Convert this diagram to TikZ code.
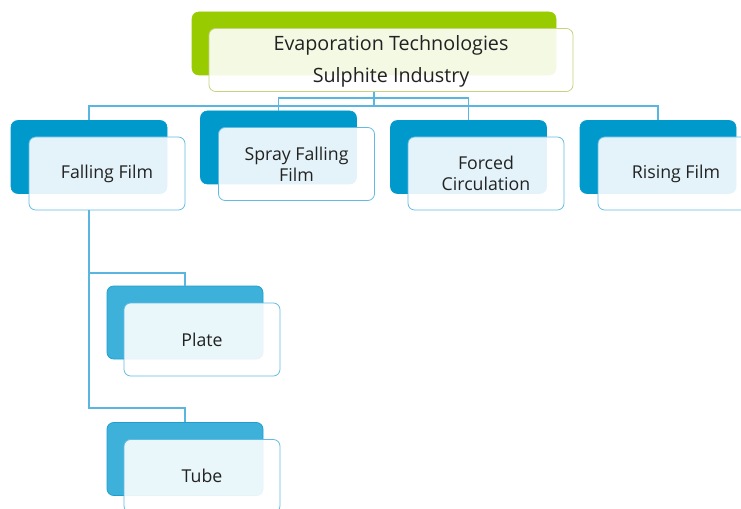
\documentclass[tikz,border=0pt]{standalone}
\usepackage{fontspec}
\setmainfont{Open Sans}
\begin{document}
\begin{tikzpicture}[x=0.75pt,y=-0.75pt,
  conn/.style={draw=lineblue,line width=0.8pt},
  backbox/.style={rounded corners=5pt,minimum width=117pt,minimum height=54.75pt,inner sep=0pt},
  backtwo/.style={backbox,fill=boxblue,draw=boxblue},
  backthree/.style={backbox,fill=lightblue,draw=lightedge,line width=0.6pt},
  frontbox/.style={rounded corners=5pt,minimum width=117pt,minimum height=54.75pt,inner sep=0pt,
    fill=white,fill opacity=0.89,text opacity=1,draw=frontedge,line width=0.6pt,
    align=center,text=textgray,font=\fontsize{13.3}{15.75}\selectfont},
  topback/.style={rounded corners=5pt,minimum width=273pt,minimum height=47.25pt,inner sep=0pt,fill=topgreen,draw=topgreen},
  topfront/.style={rounded corners=5pt,minimum width=273pt,minimum height=47.25pt,inner sep=0pt,
    fill=white,fill opacity=0.89,text opacity=1,draw=topedge,line width=0.6pt,
    align=center,text=textgray,font=\fontsize{14.8}{24}\selectfont}]
\definecolor{topgreen}{HTML}{99CC00}
\definecolor{topedge}{HTML}{C8D17E}
\definecolor{boxblue}{HTML}{0099CC}
\definecolor{lightblue}{HTML}{3DB1DA}
\definecolor{lightedge}{HTML}{1E9FD0}
\definecolor{frontedge}{HTML}{62BBE2}
\definecolor{lineblue}{HTML}{5AB6E0}
\definecolor{textgray}{HTML}{222222}
\useasboundingbox (0,0) rectangle (741,509);

% elbow levels of the connectors
\coordinate (lvA) at (0,98);
\coordinate (lvB) at (0,106);
\coordinate (lvC) at (0,273);
\coordinate (lvD) at (0,408);

% back plates
\node[topback] (topb) at (374,43.5) {};
\node[backtwo] (fallb) at (89,157) {};
\node[backtwo] (sprayb) at (278.5,147.5) {};
\node[backtwo] (forcedb) at (468.5,157) {};
\node[backtwo] (risingb) at (658,157) {};
\node[backthree] (plateb) at (185,322.5) {};
\node[backthree] (tubeb) at (185,459) {};

% connectors
\coordinate (topout) at (topb.south |- 0,92);
\coordinate (fallout) at (fallb.south |- 0,210);
\draw[conn] (topout) -- (topout |- lvB) -| (fallb.north);
\draw[conn] (topout |- lvB) -| (risingb.north);
\draw[conn] (topout |- lvA) -| (sprayb.north);
\draw[conn] (topout |- lvA) -| (forcedb.north);
\draw[conn] (fallout) -- (fallout |- lvC) -| (plateb.north);
\draw[conn] (fallout |- lvC) -- (fallout |- lvD) -| (tubeb.north);

% front plates with the texts
\node[topfront] (topf) at (391,60) {};
\node[text=textgray,font=\fontsize{14.8}{24}\selectfont,align=center] (toptext) at (391,61.5) {Evaporation Technologies\\Sulphite Industry};
\node[frontbox] (fallf) at (107,173.5) {Falling Film};
\node[frontbox] (sprayf) at (296.5,164) {Spray Falling\\Film};
\node[frontbox] (forcedf) at (486,173.5) {Forced\\Circulation};
\node[frontbox] (risingf) at (676,173.5) {Rising Film};
\node[frontbox] (platef) at (202,339.5) {Plate};
\node[frontbox] (tubef) at (202,476) {Tube};
\end{tikzpicture}
\end{document}
